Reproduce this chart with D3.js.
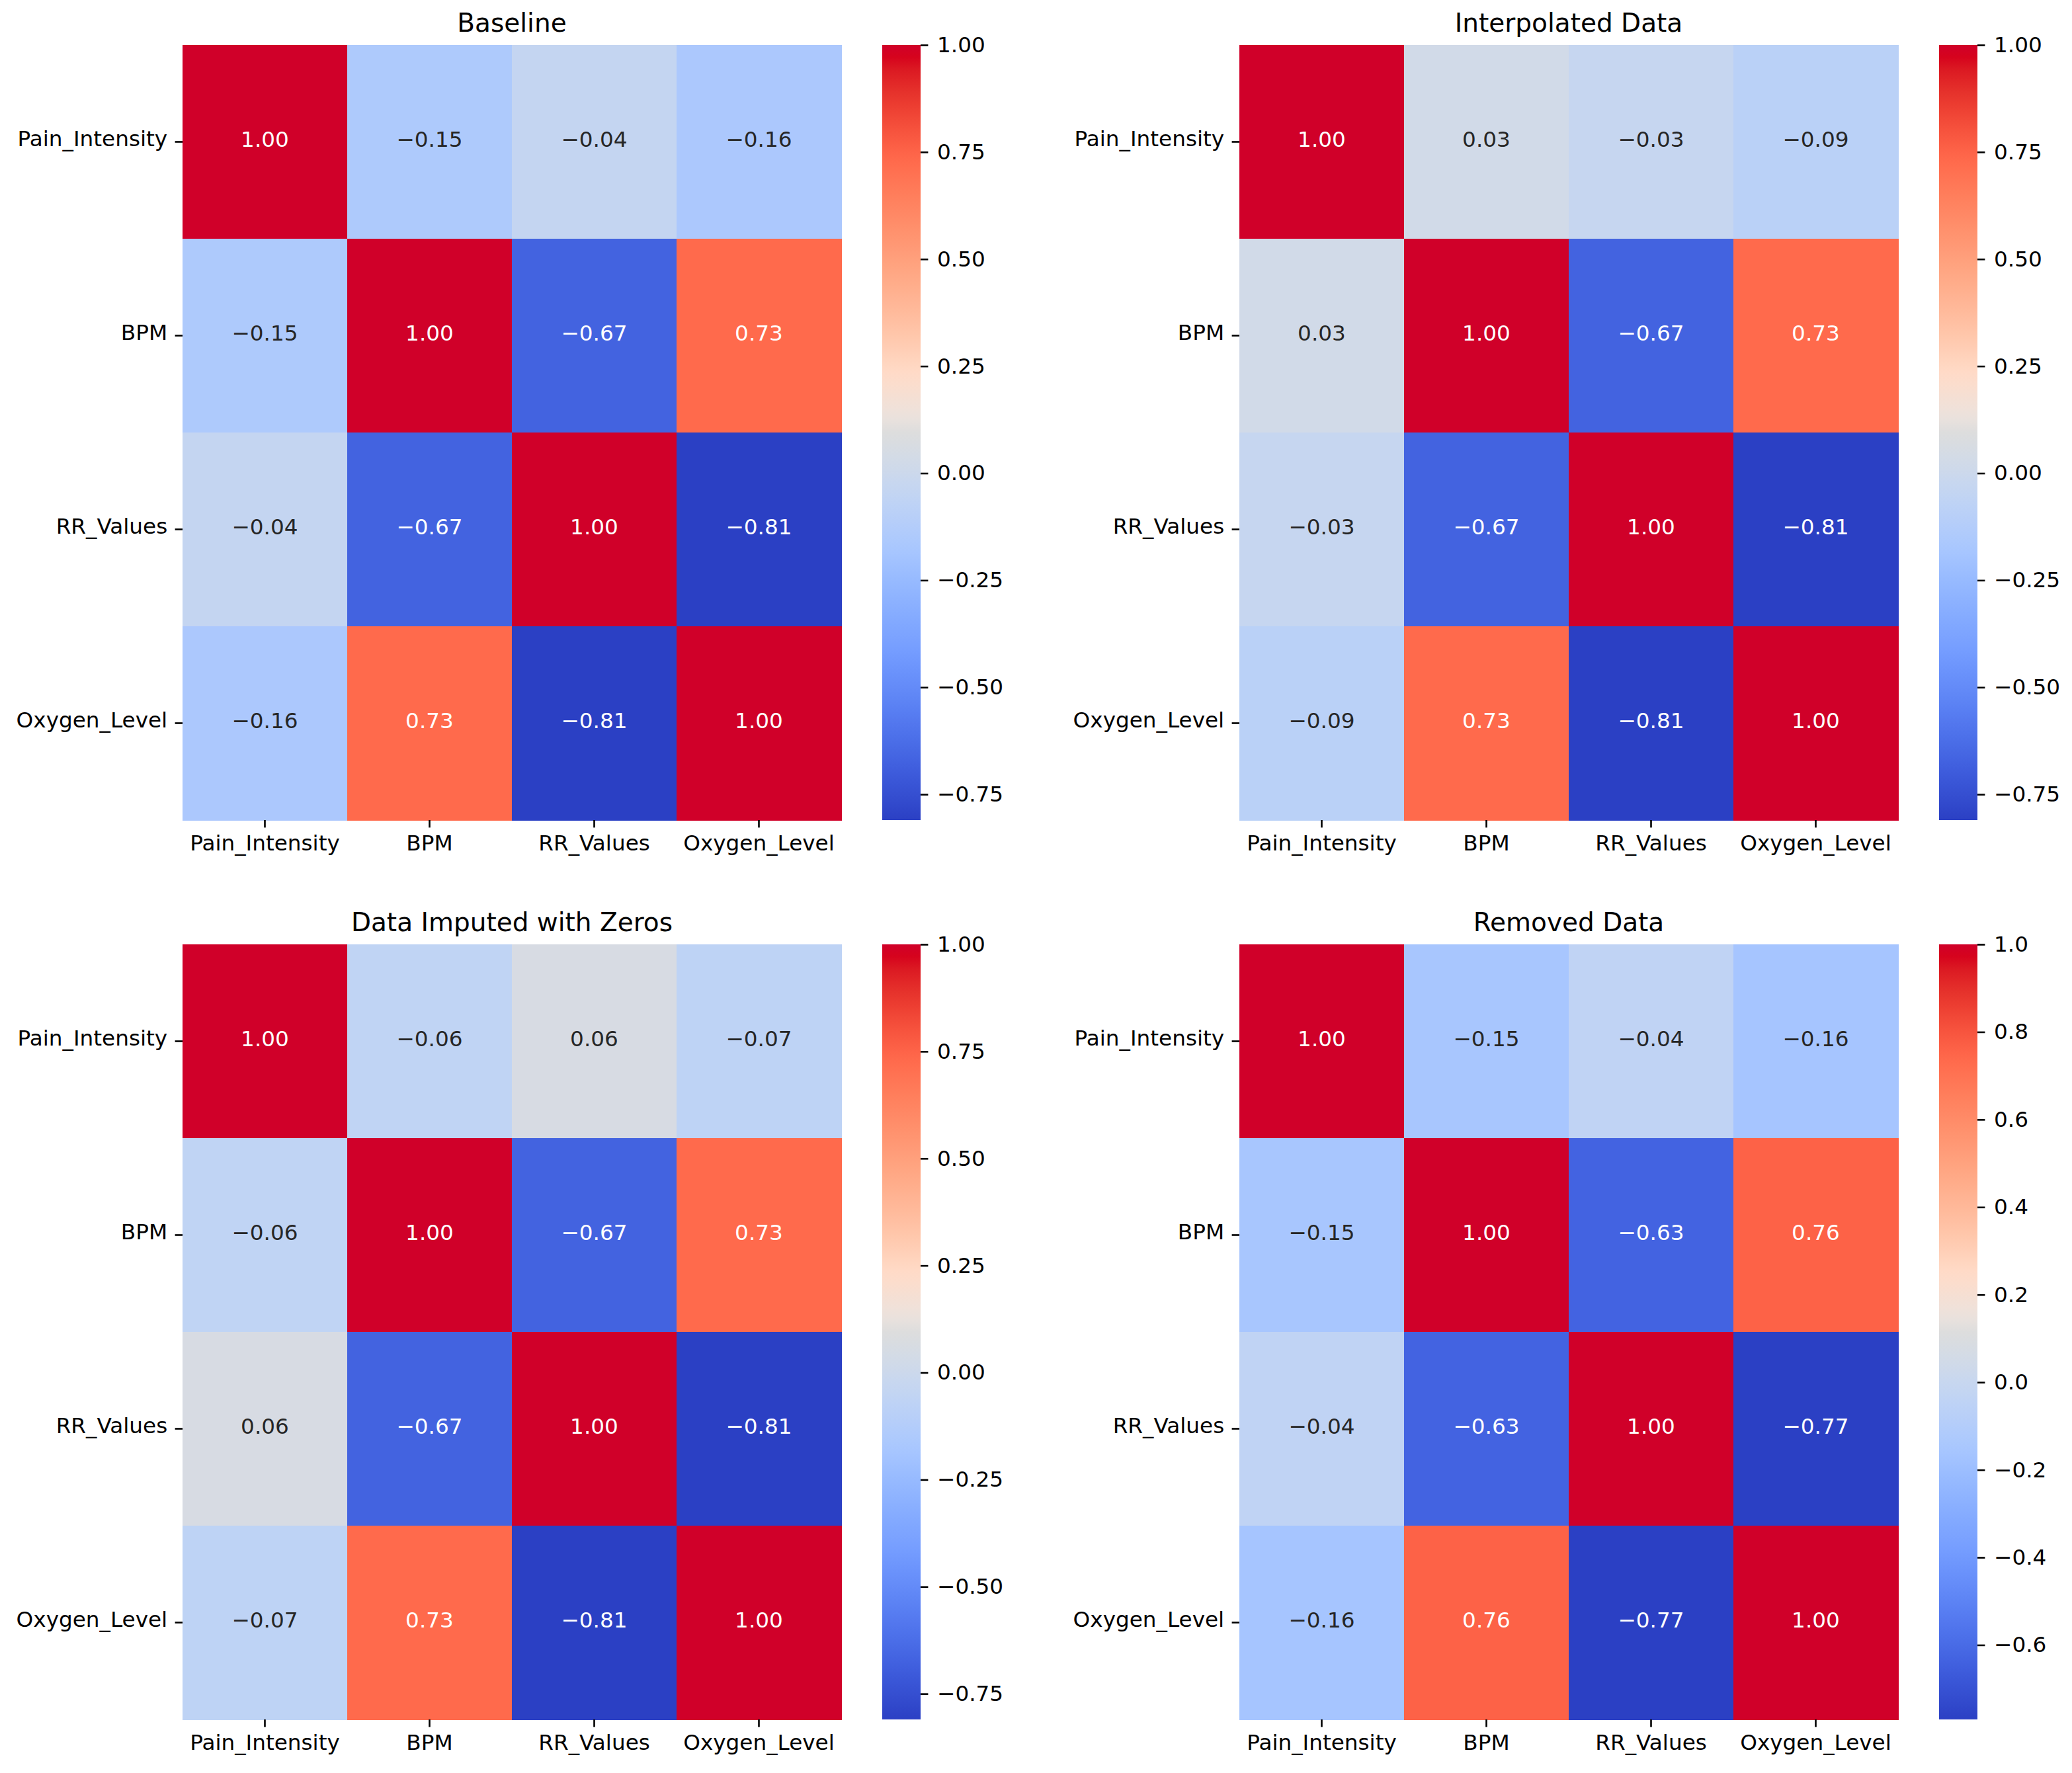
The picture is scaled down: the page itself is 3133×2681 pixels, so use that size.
<!DOCTYPE html>
<html>
<head>
<meta charset="utf-8">
<script src="https://cdn.jsdelivr.net/npm/d3@7"></script>
<style>
  html, body { margin: 0; padding: 0; background: #fff; }
  svg { display: block; }
</style>
</head>
<body>
<div id="chart"></div>
<script>
// ---------------- DATA ----------------
const variables = ["Pain_Intensity", "BPM", "RR_Values", "Oxygen_Level"];
const panelTitles = ["Baseline", "Interpolated Data", "Data Imputed with Zeros", "Removed Data"];

const baselineCorr = [
  [1.00, -0.15, -0.04, -0.16],
  [-0.15, 1.00, -0.67, 0.73],
  [-0.04, -0.67, 1.00, -0.81],
  [-0.16, 0.73, -0.81, 1.00]
];
const interpolatedCorr = [
  [1.00, 0.03, -0.03, -0.09],
  [0.03, 1.00, -0.67, 0.73],
  [-0.03, -0.67, 1.00, -0.81],
  [-0.09, 0.73, -0.81, 1.00]
];
const zerosCorr = [
  [1.00, -0.06, 0.06, -0.07],
  [-0.06, 1.00, -0.67, 0.73],
  [0.06, -0.67, 1.00, -0.81],
  [-0.07, 0.73, -0.81, 1.00]
];
const removedCorr = [
  [1.00, -0.15, -0.04, -0.16],
  [-0.15, 1.00, -0.63, 0.76],
  [-0.04, -0.63, 1.00, -0.77],
  [-0.16, 0.76, -0.77, 1.00]
];

const ticksQuarter = [-0.75, -0.50, -0.25, 0.00, 0.25, 0.50, 0.75, 1.00];
const ticksFifth = [-0.6, -0.4, -0.2, 0.0, 0.2, 0.4, 0.6, 0.8, 1.0];

const panelData = [baselineCorr, interpolatedCorr, zerosCorr, removedCorr];
const panelTicks = [ticksQuarter, ticksQuarter, ticksQuarter, ticksFifth];
const panelTickFormats = [".2f", ".2f", ".2f", ".1f"];

// ---------------- COLORMAP (matplotlib coolwarm) ----------------
const coolwarm = [
  [0.2298057,0.298717966,0.753683153],[0.26623388,0.353094838,0.801466763],
  [0.30386891,0.406535296,0.84495867],[0.342804478,0.458757618,0.883725899],
  [0.38301334,0.50941904,0.917387822],[0.424369608,0.558148092,0.945619588],
  [0.46666708,0.604562568,0.968154911],[0.509635204,0.648280772,0.98478814],
  [0.552953156,0.688929332,0.995375608],[0.596262162,0.726149107,0.999836203],
  [0.639176211,0.759599947,0.998151185],[0.681291281,0.788964712,0.990363227],
  [0.722193294,0.813952739,0.976574709],[0.761464949,0.834302879,0.956945269],
  [0.798691636,0.849786142,0.931688648],[0.833466556,0.860207984,0.901068838],
  [0.865395197,0.86541021,0.865395561],[0.897787179,0.848937047,0.820880546],
  [0.924127593,0.827384882,0.774508472],[0.944468518,0.800927443,0.726736146],
  [0.958852946,0.769767752,0.678007945],[0.96732803,0.734132809,0.628751763],
  [0.969954137,0.694266682,0.579375448],[0.966811177,0.650421156,0.530263762],
  [0.958003065,0.602842431,0.481775914],[0.943660866,0.551750968,0.434243684],
  [0.923944917,0.49730856,0.387970225],[0.89904617,0.439559467,0.343229596],
  [0.869186849,0.378313092,0.300267182],[0.834620542,0.312874446,0.259301199],
  [0.795631745,0.24128379,0.220525627],[0.752534934,0.157246067,0.184115123],
  [0.705673158,0.01555616,0.150232812]
];

function coolwarmRaw(t) {
  t = Math.max(0, Math.min(1, t));
  const p = t * (coolwarm.length - 1);
  const i = Math.min(coolwarm.length - 2, Math.floor(p));
  const f = p - i;
  const a = coolwarm[i], b = coolwarm[i + 1];
  return [a[0] + (b[0]-a[0])*f, a[1] + (b[1]-a[1])*f, a[2] + (b[2]-a[2])*f];
}

// the reference image is rendered with boosted saturation / brightness
function enhance(c) {
  const [r, g, b] = c;
  const mx = Math.max(r, g, b), mn = Math.min(r, g, b);
  const d = mx - mn;
  let h = 0;
  if (d > 1e-9) {
    if (mx === r) h = 60 * (((g - b) / d) % 6);
    else if (mx === g) h = 60 * ((b - r) / d + 2);
    else h = 60 * ((r - g) / d + 4);
  }
  if (h < 0) h += 360;
  const s = mx > 0 ? d / mx : 0;
  const redSide = (h < 90 || h > 270);
  const s2 = Math.min(1, s * 1.12);
  const v2 = Math.min(1, mx * (1 + (redSide ? 0.16 * Math.sqrt(s) : 0.03 * s)));
  const C = v2 * s2;
  const X = C * (1 - Math.abs(((h / 60) % 2) - 1));
  const m = v2 - C;
  let rr, gg, bb;
  if (h < 60) [rr, gg, bb] = [C, X, 0];
  else if (h < 120) [rr, gg, bb] = [X, C, 0];
  else if (h < 180) [rr, gg, bb] = [0, C, X];
  else if (h < 240) [rr, gg, bb] = [0, X, C];
  else if (h < 300) [rr, gg, bb] = [X, 0, C];
  else [rr, gg, bb] = [C, 0, X];
  return d3.rgb((rr + m) * 255, (gg + m) * 255, (bb + m) * 255);
}

function interpCoolwarm(t) { return enhance(coolwarmRaw(t)).formatHex(); }

function luminance(c) {
  const lin = v => v <= 0.04045 ? v / 12.92 : Math.pow((v + 0.055) / 1.055, 2.4);
  return 0.2126 * lin(c[0]) + 0.7152 * lin(c[1]) + 0.0722 * lin(c[2]);
}

// ---------------- LAYOUT ----------------
const W = 3133, H = 2681;
const fontFamily = "'DejaVu Sans', 'Liberation Sans', sans-serif";
const tickFont = 32.7, titleFont = 39;
const tickLen = 11.4, tickW = 2.6;

const panelLeft = [276, 1874];
const panelTop = [68, 1428];
const hmW = 996, hmH = 1172;
const cbOffset = 1058, cbW = 58;

const svg = d3.select("#chart").append("svg")
  .attr("width", W).attr("height", H)
  .attr("viewBox", `0 0 ${W} ${H}`);
svg.append("rect").attr("width", W).attr("height", H).attr("fill", "#fff");

const defs = svg.append("defs");

panelData.forEach((matrix, pi) => {
  const x0 = panelLeft[pi % 2];
  const y0 = panelTop[Math.floor(pi / 2)];
  const flat = matrix.flat();
  const [vmin, vmax] = d3.extent(flat);

  const xScale = d3.scaleBand().domain(variables).range([x0, x0 + hmW]).padding(0);
  const yScale = d3.scaleBand().domain(variables).range([y0, y0 + hmH]).padding(0);
  const norm = d3.scaleLinear().domain([vmin, vmax]).range([0, 1]).clamp(true);
  const color = v => interpCoolwarm(norm(v));

  const g = svg.append("g");

  // cells
  const cells = [];
  matrix.forEach((row, ri) => row.forEach((v, ci) => cells.push({ r: variables[ri], c: variables[ci], v })));

  g.selectAll("rect.cell").data(cells).enter().append("rect")
    .attr("class", "cell")
    .attr("x", d => xScale(d.c))
    .attr("y", d => yScale(d.r))
    .attr("width", xScale.bandwidth() + 0.6)
    .attr("height", yScale.bandwidth() + 0.6)
    .attr("fill", d => color(d.v))
    .attr("shape-rendering", "crispEdges");

  // annotations
  g.selectAll("text.annot").data(cells).enter().append("text")
    .attr("class", "annot")
    .attr("x", d => xScale(d.c) + xScale.bandwidth() / 2)
    .attr("y", d => yScale(d.r) + yScale.bandwidth() / 2)
    .attr("dy", "0.23em")
    .attr("text-anchor", "middle")
    .attr("font-family", fontFamily)
    .attr("font-size", tickFont)
    .attr("fill", d => luminance(coolwarmRaw(norm(d.v))) > 0.408 ? "#262626" : "#ffffff")
    .text(d => d3.format(".2f")(d.v));

  // axes
  const xAxis = g.append("g")
    .attr("transform", `translate(0,${y0 + hmH})`)
    .call(d3.axisBottom(xScale).tickSize(tickLen).tickPadding(tickLen));
  const yAxis = g.append("g")
    .attr("transform", `translate(${x0},0)`)
    .call(d3.axisLeft(yScale).tickSize(tickLen).tickPadding(tickLen));
  [xAxis, yAxis].forEach(ax => {
    ax.select(".domain").remove();
    ax.selectAll("line").attr("stroke", "#000").attr("stroke-width", tickW);
    ax.selectAll("text").attr("font-family", fontFamily).attr("font-size", tickFont).attr("fill", "#000");
  });
  yAxis.selectAll("text").attr("dy", "0.2em");

  // title
  g.append("text")
    .attr("x", x0 + hmW / 2)
    .attr("y", y0 - 20)
    .attr("text-anchor", "middle")
    .attr("font-family", fontFamily)
    .attr("font-size", titleFont)
    .attr("fill", "#000")
    .text(panelTitles[pi]);

  // colorbar
  const cbX = x0 + cbOffset;
  const gradId = "grad" + pi;
  const grad = defs.append("linearGradient").attr("id", gradId)
    .attr("x1", 0).attr("y1", 1).attr("x2", 0).attr("y2", 0);
  d3.range(0, 1.0001, 1 / 64).forEach(t => {
    grad.append("stop").attr("offset", t).attr("stop-color", interpCoolwarm(t));
  });
  g.append("rect")
    .attr("x", cbX).attr("y", y0)
    .attr("width", cbW).attr("height", hmH)
    .attr("fill", `url(#${gradId})`);

  const cbScale = d3.scaleLinear().domain([vmin, vmax]).range([y0 + hmH, y0]);
  const cbAxis = g.append("g")
    .attr("transform", `translate(${cbX + cbW},0)`)
    .call(d3.axisRight(cbScale)
      .tickValues(panelTicks[pi])
      .tickFormat(d3.format(panelTickFormats[pi]))
      .tickSize(tickLen).tickPadding(13.6));
  cbAxis.select(".domain").remove();
  cbAxis.selectAll("line").attr("stroke", "#000").attr("stroke-width", tickW);
  cbAxis.selectAll("text").attr("font-family", fontFamily).attr("font-size", tickFont).attr("fill", "#000");
});
</script>
</body>
</html>
